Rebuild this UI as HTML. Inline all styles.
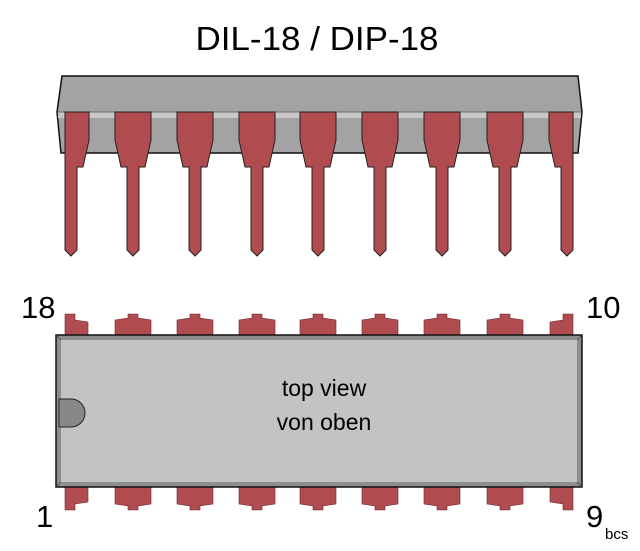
<!DOCTYPE html>
<html><head><meta charset="utf-8"><style>html,body{margin:0;padding:0;background:#fff}svg{display:block}</style></head>
<body>
<svg width="640" height="551" viewBox="0 0 640 551" xmlns="http://www.w3.org/2000/svg" font-family="Liberation Sans, Arial, sans-serif">
<defs>
<path id="sp" d="M-18,112 H18 V140 L12,167 H6 V250 L0,256 L-6,250 V167 H-12 L-18,140 Z" fill="#b04c50" stroke="#222" stroke-width="1"/>
<path id="tp" d="M-18,335 V320 L-5,318 V314 H5 V318 L18,320 V335 Z" fill="#b04c50" stroke="#6a2a2a" stroke-width="0.6"/>
<path id="bp" d="M-18,487 V504 L-5,506 V510 H5 V506 L18,504 V487 Z" fill="#b04c50" stroke="#6a2a2a" stroke-width="0.6"/>
</defs>
<text x="317" y="50" font-size="33" text-anchor="middle" textLength="243" lengthAdjust="spacingAndGlyphs">DIL-18 / DIP-18</text>
<path d="M62,76 H578 L582,112 L578,153 H61 L57,112 Z" fill="#a3a3a3" stroke="#111" stroke-width="1.5"/>
<rect x="58" y="112" width="523" height="6" fill="#c8c8c8"/>
<path d="M57,112 H582" stroke="#555" stroke-width="0.7"/>
<path d="M65,112 H89 V140 L83,167 H77 V250 L71,256 L65,250 Z" fill="#b04c50" stroke="#222"/>
<use href="#sp" x="133"/><use href="#sp" x="195"/><use href="#sp" x="257"/><use href="#sp" x="318"/><use href="#sp" x="380"/><use href="#sp" x="442"/><use href="#sp" x="505"/>
<path d="M573,112 H549 V140 L555,167 H561 V250 L567,256 L573,250 Z" fill="#b04c50" stroke="#222"/>
<path d="M65,335 V314 H75 V320 L88,322 V335 Z" fill="#b04c50" stroke="#6a2a2a" stroke-width="0.6"/>
<use href="#tp" x="133"/><use href="#tp" x="195"/><use href="#tp" x="257"/><use href="#tp" x="318"/><use href="#tp" x="380"/><use href="#tp" x="442"/><use href="#tp" x="505"/>
<path d="M573,335 V314 H563 V320 L550,322 V335 Z" fill="#b04c50" stroke="#6a2a2a" stroke-width="0.6"/>
<path d="M65,487 V510 H75 V504 L88,502 V487 Z" fill="#b04c50" stroke="#6a2a2a" stroke-width="0.6"/>
<use href="#bp" x="133"/><use href="#bp" x="195"/><use href="#bp" x="257"/><use href="#bp" x="318"/><use href="#bp" x="380"/><use href="#bp" x="442"/><use href="#bp" x="505"/>
<path d="M573,487 V510 H563 V504 L550,502 V487 Z" fill="#b04c50" stroke="#6a2a2a" stroke-width="0.6"/>
<rect x="56" y="335" width="526" height="152" fill="#8e8e8e" stroke="#111" stroke-width="1.5"/>
<rect x="61" y="340" width="516" height="142" fill="#c3c3c3"/>
<path d="M56,335 L61,340 M582,335 L577,340 M56,487 L61,482 M582,487 L577,482" stroke="#333" stroke-width="0.7"/>
<path d="M59,399 H71 A14,14 0 0 1 71,427 H59 Z" fill="#888" stroke="#222" stroke-width="1"/>
<text x="324" y="396" font-size="23" text-anchor="middle">top view</text>
<text x="324" y="430" font-size="23" text-anchor="middle">von oben</text>
<text x="21" y="318" font-size="31">18</text>
<text x="586" y="318" font-size="31">10</text>
<text x="36" y="527" font-size="31">1</text>
<text x="586" y="527" font-size="31">9</text>
<text x="605" y="539" font-size="15">bcs</text>
</svg>
</body></html>
